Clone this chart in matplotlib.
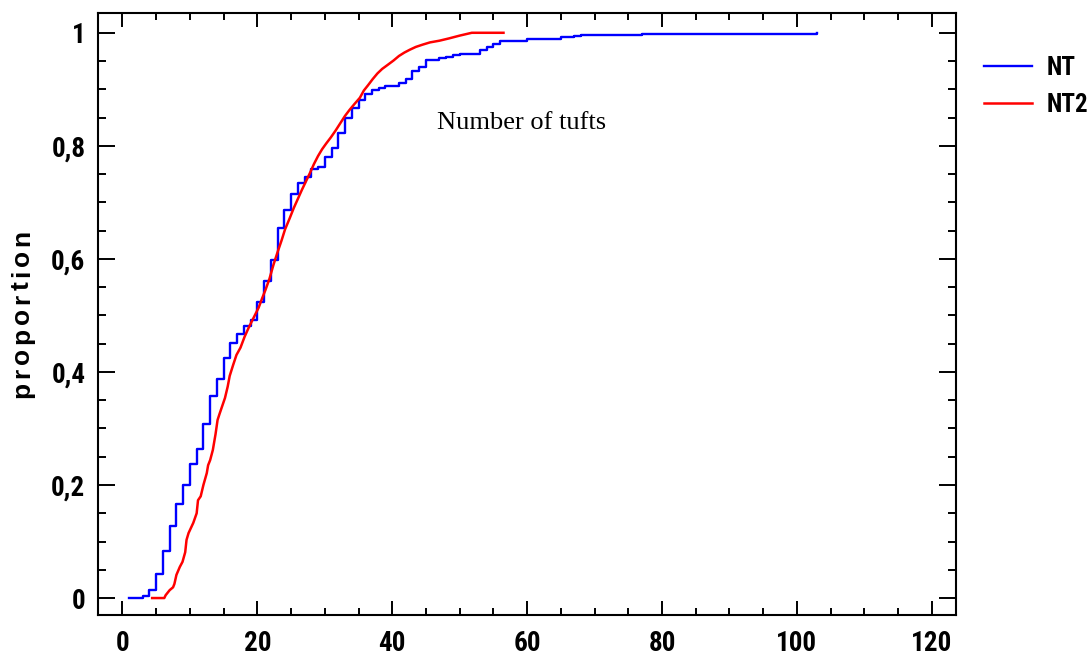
import matplotlib
matplotlib.use("Agg")
import matplotlib.pyplot as plt
from matplotlib.ticker import MultipleLocator, FuncFormatter
from matplotlib.font_manager import FontProperties, fontManager

# ---- data ----
nt_x = [1, 3, 4, 5, 6, 7, 8, 9, 10, 11, 12, 13, 14, 15, 16, 17, 18, 19, 20, 21,
        22, 23, 24, 25, 26, 27, 28, 29, 30, 31, 32, 33, 34, 35, 36, 37, 38, 39,
        41, 42, 43, 44, 45, 47, 48, 49, 50, 53, 54, 55, 56, 60, 65, 67, 68, 77, 103]
nt_y = [0.0, 0.0035, 0.015, 0.042, 0.083, 0.128, 0.166, 0.2, 0.237, 0.264,
        0.308, 0.357, 0.388, 0.425, 0.452, 0.468, 0.482, 0.492, 0.523, 0.561,
        0.598, 0.655, 0.686, 0.714, 0.734, 0.745, 0.759, 0.763, 0.78, 0.796,
        0.822, 0.850, 0.867, 0.881, 0.892, 0.899, 0.902, 0.906,
        0.911, 0.918, 0.933, 0.940, 0.952,
        0.955, 0.958, 0.961, 0.963,
        0.969, 0.974, 0.981, 0.986,
        0.989, 0.992, 0.994, 0.996, 0.998, 1.0]

nt2_x = [4.4, 6.2, 6.4, 7.0, 7.5, 7.7, 8.0, 8.5, 8.9, 9.3, 9.5, 9.8, 10.5, 11.0,
         11.2, 11.6, 12.0, 12.5, 12.7, 13.0, 13.4, 13.8, 14.1, 14.4, 14.8, 15.2,
         15.6, 15.9, 16.4, 16.9, 17.5, 18.1, 18.7, 19.2, 19.7, 20.2, 20.7, 21.2,
         21.8, 22.4, 23.0, 23.6, 24.1, 24.8, 25.4, 26.0, 26.6, 27.2, 27.8, 28.4,
         29.0, 29.6, 30.2, 30.9, 31.6, 32.3, 33.0, 33.7, 34.4, 35.2, 35.8, 36.4,
         37.1, 37.8, 38.5, 39.3, 40.2, 41.0, 41.8, 42.6, 43.5, 44.5, 45.6, 47.0,
         48.4, 50.0, 51.8, 56.5]
nt2_y = [0, 0, 0.005, 0.014, 0.019, 0.025, 0.041, 0.055, 0.064, 0.081, 0.103,
         0.115, 0.133, 0.150, 0.173, 0.180, 0.200, 0.221, 0.235, 0.244, 0.262,
         0.290, 0.315, 0.326, 0.340, 0.354, 0.374, 0.393, 0.412, 0.430, 0.443,
         0.462, 0.478, 0.490, 0.502, 0.514, 0.530, 0.545, 0.565, 0.590, 0.612,
         0.633, 0.652, 0.672, 0.690, 0.706, 0.722, 0.737, 0.752, 0.768, 0.782,
         0.794, 0.804, 0.815, 0.827, 0.840, 0.853, 0.864, 0.874, 0.885, 0.898,
         0.907, 0.918, 0.928, 0.936, 0.943, 0.951, 0.959, 0.965, 0.970, 0.975,
         0.979, 0.983, 0.986, 0.990, 0.995, 1.0, 1.0]

series_names = ["NT", "NT2"]
x_ticks = [0, 20, 40, 60, 80, 100, 120]
y_ticks = [0, 0.2, 0.4, 0.6, 0.8, 1.0]
y_label = "proportion"
annotation = "Number of tufts"

# ---- pick a narrow bold font if one is installed ----
avail = {f.name for f in fontManager.ttflist}
narrow_family = None
for cand in ["Liberation Sans Narrow", "Arial Narrow", "Roboto Condensed",
             "Open Sans Condensed", "DejaVu Sans Condensed"]:
    if cand in avail:
        narrow_family = cand
        break
narrow_stretch = "normal"
if narrow_family is None:
    cond = [f for f in fontManager.ttflist
            if "cond" in str(f.stretch).lower() or f.stretch in (
                "condensed", "semi-condensed", "extra-condensed")]
    if cond:
        narrow_family = cond[0].name
        narrow_stretch = "condensed"
    else:
        narrow_family = "Roboto"
tick_fp = FontProperties(family=[narrow_family, "DejaVu Sans"], weight="bold",
                         stretch=narrow_stretch, size=19.5)
legend_fp = FontProperties(family=[narrow_family, "DejaVu Sans"], weight="bold",
                           stretch=narrow_stretch, size=18)

# ---- figure ----
fig = plt.figure(figsize=(10.91, 6.58), dpi=100)
ax = fig.add_axes([98 / 1091, 43 / 658, 858 / 1091, 602 / 658])

ax.step(nt_x, nt_y, where="post", color="#0000ff", lw=1.7, label=series_names[0])
ax.plot(nt2_x, nt2_y, color="#ff0000", lw=1.8, label=series_names[1])

ax.set_xlim(-3.63, 123.6)
ax.set_ylim(-0.030, 1.035)
ax.set_xticks(x_ticks)
ax.set_yticks(y_ticks)
ax.xaxis.set_minor_locator(MultipleLocator(5))
ax.yaxis.set_minor_locator(MultipleLocator(0.05))


def yfmt(v, pos):
    if abs(v) < 1e-9:
        return "0"
    if abs(v - 1) < 1e-9:
        return "1"
    return ("%.1f" % v).replace(".", ",")


ax.yaxis.set_major_formatter(FuncFormatter(yfmt))
ax.xaxis.set_major_formatter(FuncFormatter(lambda v, p: "%d" % v))

for s in ax.spines.values():
    s.set_linewidth(1.5)
ax.tick_params(axis="both", which="both", direction="in", top=True, right=True,
               width=1.4, colors="black")
ax.tick_params(axis="x", which="major", length=10, pad=11)
ax.tick_params(axis="x", which="minor", length=5)
ax.tick_params(axis="y", which="major", length=12, pad=9)
ax.tick_params(axis="y", which="minor", length=6)

for lab in ax.get_xticklabels() + ax.get_yticklabels():
    lab.set_fontproperties(tick_fp)

ax.text(46.7, 0.84, annotation, fontfamily=["Liberation Serif", "DejaVu Serif"],
        fontsize=19, va="center", ha="left")

# letter-spaced rotated axis title
lab_fp = FontProperties(family=["Liberation Sans", "DejaVu Sans"], weight="bold", size=19)
renderer = fig.canvas.get_renderer()
widths = []
for i in range(len(y_label) + 1):
    if i == 0:
        widths.append(0.0)
    else:
        w, h, d = renderer.get_text_width_height_descent(y_label[:i], lab_fp, ismath=False)
        widths.append(w)
target_len = 168.0
spacing = max(0.0, (target_len - widths[-1]) / (len(y_label) - 1))
y_center_px = 658 - 314
start_px = y_center_px - target_len / 2
x_px = 29
for i, ch in enumerate(y_label):
    ypos = start_px + widths[i] + spacing * i
    fig.text(x_px / 1091, ypos / 658, ch, rotation=90, rotation_mode="anchor",
             ha="left", va="baseline", fontproperties=lab_fp)

leg = ax.legend(loc="upper left", bbox_to_anchor=(984 / 1091, 1 - 56 / 658),
                bbox_transform=fig.transFigure, frameon=False, prop=legend_fp,
                handlelength=1.9, handletextpad=0.6, labelspacing=0.5,
                borderaxespad=0, borderpad=0)

fig.savefig("out.png", dpi=100)
